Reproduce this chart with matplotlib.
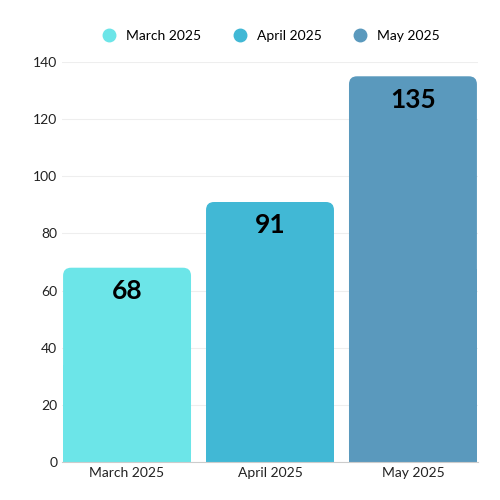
import matplotlib.pyplot as plt
from matplotlib.patches import FancyBboxPatch, Rectangle
from matplotlib.lines import Line2D

months = ["March 2025", "April 2025", "May 2025"]
values = [68, 91, 135]
colors = ["#6ce5e8", "#41b8d5", "#5a99bd"]

plt.rcParams['font.family'] = ['Lato', 'DejaVu Sans']
fig = plt.figure(figsize=(5, 5), dpi=100)
ax = fig.add_axes([0.124, 0.076, 0.832, 0.8])

width = 0.895
ax.set_xlim(-0.455, 2.455)
ax.set_ylim(0, 140)
# data units per pixel in y vs x for rounding
px_x = 2.91 / 416
px_y = 140 / 400
r = 8 * px_x
for i, (v, c) in enumerate(zip(values, colors)):
    x0 = i - width / 2
    ax.add_patch(FancyBboxPatch((x0 + r, r * px_y / px_x), width - 2 * r, v - 2 * r * px_y / px_x,
                                boxstyle=f"round,pad={r}", mutation_aspect=px_y / px_x,
                                fc=c, ec="none", zorder=2))
    ax.add_patch(Rectangle((x0, 0), width, v / 2, fc=c, ec="none", zorder=2))
    ax.text(i, v - 4, str(v), ha="center", va="top", fontsize=19, fontweight="bold", zorder=3)

ax.set_xticks(range(len(months)))
ax.set_xticklabels(months)
ax.set_yticks(range(0, 141, 20))
ax.tick_params(length=0, labelsize=10, colors="#222222")
ax.grid(axis="y", color="#eeeeee", lw=0.8, zorder=0)
for s in ["top", "right", "left"]:
    ax.spines[s].set_visible(False)
ax.spines["bottom"].set_color("#cccccc")

handles = [Line2D([], [], marker="o", ls="", ms=9, color=c) for c in colors]
fig.legend(handles, months, loc="center", bbox_to_anchor=(0.535, 0.928), ncol=3,
           frameon=False, fontsize=10, handletextpad=0.2, columnspacing=1.8)

fig.savefig("out.png")
